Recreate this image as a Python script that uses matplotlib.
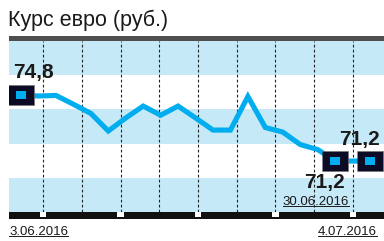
import numpy as np
import matplotlib.pyplot as plt
import matplotlib.transforms as mtransforms
from matplotlib.patches import Rectangle

plt.rcParams['font.family'] = ['Liberation Sans', 'DejaVu Sans']

# EUR/RUB, trading days 3.06.2016 .. 4.07.2016
rates = [74.80, 74.75, 74.78, 74.30, 73.80, 72.84, 73.55, 74.20, 73.70, 74.20, 73.55,
         72.89, 72.89, 74.72, 73.03, 72.78, 72.10, 71.83, 71.20, 71.20, 71.20]
days = np.arange(len(rates))
grid_x = [1.26, 3.48, 5.70, 7.92, 10.14, 12.36, 14.58, 16.80, 19.02]
title = "Курс евро (руб.)"
first_label, last_label = "74,8", "71,2"
date_start, date_mid, date_end = "3.06.2016", "30.06.2016", "4.07.2016"

band_blue = '#c6e9f8'
line_blue = '#00aeef'
navy = '#0b0b26'

fig = plt.figure(figsize=(3.84, 2.41), dpi=100)
ax = fig.add_axes([9 / 384, 29 / 241, 375 / 384, 171 / 241])
ax.set_xlim(-0.69, 20.8)
ax.set_ylim(68.42, 77.75)
ax.axis('off')

# horizontal bands
for k in range(0, 5, 2):
    ax.add_patch(Rectangle((0, k * 0.2), 1, 0.2, transform=ax.transAxes,
                           color=band_blue, lw=0, zorder=0))

# top and bottom bars
px = 1 / 171
ax.add_patch(Rectangle((0, 1), 1, 5 * px, transform=ax.transAxes,
                       color='#4f4f4f', lw=0, clip_on=False, zorder=3))
ax.add_patch(Rectangle((0, -6.5 * px), 1, 6.5 * px, transform=ax.transAxes,
                       color='#111111', lw=0, clip_on=False, zorder=3))

# dashed verticals
for gx in grid_x:
    ax.axvline(gx, color='#222222', lw=0.8, ls=(0, (2.5, 2)), zorder=1)

# white ticks in the bottom bar
blend = mtransforms.blended_transform_factory(ax.transData, ax.transAxes)
for gx in grid_x[::2]:
    ax.add_patch(Rectangle((gx - 0.19, -5 * px), 0.38, 5 * px, transform=blend,
                           color='white', lw=0, clip_on=False, zorder=4))

# the rate line
ax.plot(days, rates, color=line_blue, lw=3.7, solid_joinstyle='miter', zorder=2)

# markers
outer = [(-1.22, -1), (1.22, -1), (1.22, 1), (-1.22, 1)]
inner = [(-1.5, -1), (1.5, -1), (1.5, 1), (-1.5, 1)]
mk = [0, 18, 20]
mx = days[mk]
my = [rates[i] for i in mk]
ax.scatter(mx, my, marker=outer, s=330, c=navy, edgecolors='#777777',
           linewidths=0.5, zorder=5)
ax.scatter(mx, my, marker=inner, s=60, c=line_blue, lw=0, zorder=6)

# value labels
bold = dict(fontsize=15, fontweight='bold', color='#1a1a1a', va='baseline',
            textcoords='offset pixels', zorder=7)
ax.annotate(first_label, (days[0], rates[0]), xytext=(-8, 17), ha='left', **bold)
ax.annotate(last_label, (days[-1], rates[-1]), xytext=(10, 16), ha='right', **bold)
ax.annotate(last_label, (days[18], rates[18]), xytext=(10, -27), ha='right', **bold)

small = dict(fontsize=9.5, color='#1a1a1a', va='baseline', zorder=7)
t_mid = ax.annotate(date_mid, (days[18], rates[18]), xytext=(14, -44),
                    textcoords='offset pixels', ha='right', **small)
t0 = fig.text(9 / 384, 1 - 235 / 241, date_start, ha='left', **small)
t1 = fig.text(377 / 384, 1 - 235 / 241, date_end, ha='right', **small)

fig.text(8 / 384, 1 - 26 / 241, title, fontsize=15.5, color='#1a1a1a',
         ha='left', va='baseline')

# underline the dates
fig.canvas.draw()
r = fig.canvas.get_renderer()
inv = fig.transFigure.inverted()
for t in (t_mid, t0, t1):
    bb = t.get_window_extent(r)
    (x0, y0), (x1, _) = inv.transform([(bb.x0, bb.y0 + 2), (bb.x1, bb.y0)])
    fig.add_artist(plt.Line2D([x0, x1], [y0, y0], color='#1a1a1a', lw=0.7,
                              transform=fig.transFigure, zorder=8))

fig.savefig('out.png', dpi=100)
